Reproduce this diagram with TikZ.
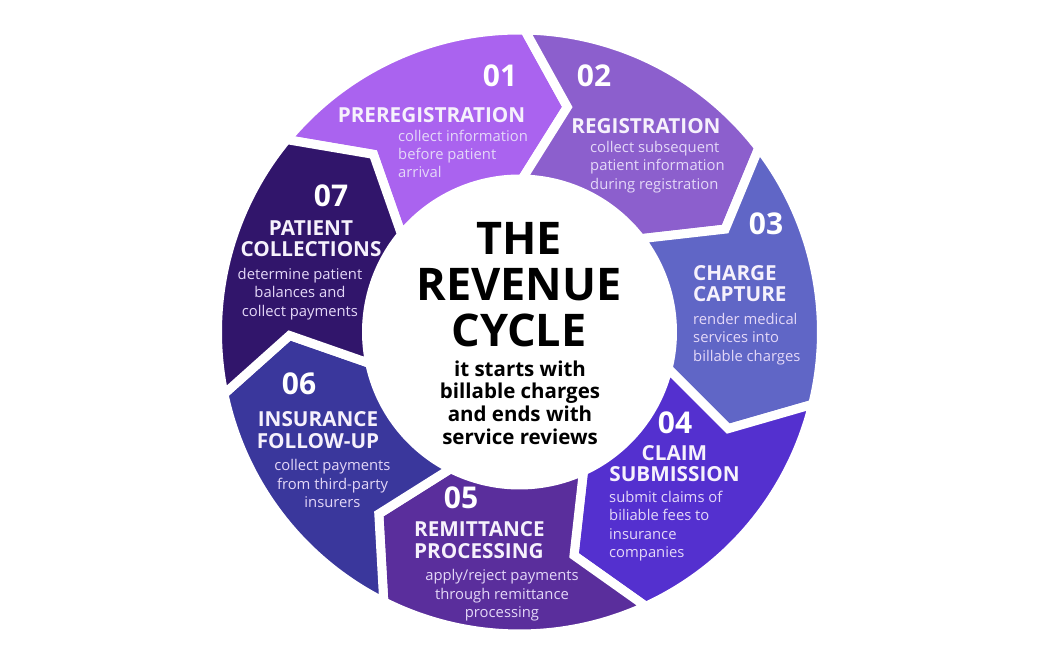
\documentclass[tikz,border=0pt]{standalone}
\usepackage{fontspec}
\setmainfont{Open Sans}
\usepackage{xcolor}
\usepackage{tikz}
\usetikzlibrary{calc, positioning}

\definecolor{segA}{HTML}{AA63EF}
\definecolor{segB}{HTML}{8C5FCD}
\definecolor{segC}{HTML}{6066C6}
\definecolor{segD}{HTML}{5430CF}
\definecolor{segE}{HTML}{5A2E9C}
\definecolor{segF}{HTML}{3A379C}
\definecolor{segG}{HTML}{31156B}
\definecolor{desctext}{HTML}{E4D8F8}
\definecolor{headtext}{HTML}{F6F1FC}

\tikzset{
  segment/.style={fill=#1, draw=white, line width=9pt, line join=miter},
  numlabel/.style={text=white, inner sep=0pt, anchor=north,
    font=\fontsize{30}{30}\selectfont\bfseries},
  headlabel/.style={text=headtext, inner sep=0pt, align=#1,
    font=\fontsize{20.7}{21.7}\selectfont\bfseries},
  desclabel/.style={text=desctext, inner sep=0pt, align=#1,
    font=\fontsize{14.8}{18.3}\selectfont},
}

\begin{document}
\begin{tikzpicture}[x=1pt, y=1pt]
    % =================================================================
    % 1. NỀN VÀ KHUNG
    % =================================================================
    \useasboundingbox (-519.5,-335) rectangle (524.5,332);
    \fill[white] (-519.5,-335) rectangle (524.5,332);

    % =================================================================
    % 2. BẢY MŨI TÊN VÒNG TRÒN (chiều kim đồng hồ)
    % =================================================================
    \foreach \k/\col in {1/segA, 2/segB, 3/segC, 4/segD, 5/segE, 6/segF, 7/segG} {
        \pgfmathsetmacro\a{89-(\k-2)*360/7}
        \pgfmathsetmacro\b{89-(\k-1)*360/7}
        \draw[segment=\col] (\a:302pt) arc[start angle=\a, end angle=\b, radius=302pt]
            -- ({\b-11}:230pt) -- (\b:153pt)
            arc[start angle=\b, end angle=\a, radius=153pt]
            -- ({\a-11}:230pt) -- cycle;
    }

    % =================================================================
    % 3. CHỮ Ở GIỮA
    % =================================================================
    \node[inner sep=0pt, anchor=north, align=center,
          font=\fontsize{45}{46}\selectfont\bfseries] (title) at (-0.5,110.3)
          {THE\\REVENUE\\CYCLE};
    \node[inner sep=0pt, anchor=north, align=center,
          font=\fontsize{20.5}{22.6}\selectfont\bfseries] (subtitle) at (0.5,-28.5)
          {it starts with\\billable charges\\and ends with\\service reviews};

    % =================================================================
    % 4. NHÃN CÁC BƯỚC
    % =================================================================
    % Bước 01
    \node[numlabel] (num1) at (-19.5,267) {01};
    \node[headlabel=center, anchor=north] (head1) at (-88,225) {PREREGISTRATION};
    \node[desclabel=left, anchor=north west] (desc1) at (-121.5,202.5)
          {collect information\\before patient\\arrival};
    % Bước 02
    \node[numlabel] (num2) at (74.5,267) {02};
    \node[headlabel=center, anchor=north] (head2) at (126.5,214) {REGISTRATION};
    \node[desclabel=left, anchor=north west] (desc2) at (70.5,191)
          {collect subsequent\\patient information\\during registration};
    % Bước 03
    \node[numlabel] (num3) at (246.5,119) {03};
    \node[headlabel=left, anchor=north west] (head3) at (173.5,67) {CHARGE\\CAPTURE};
    \node[desclabel=left, anchor=north west] (desc3) at (173.5,19)
          {render medical\\services into\\billable charges};
    % Bước 04
    \node[numlabel] (num4) at (155.5,-79.7) {04};
    \node[headlabel=center, anchor=north] (head4) at (155,-113) {CLAIM\\SUBMISSION};
    \node[desclabel=left, anchor=north west] (desc4) at (89.5,-159)
          {submit claims of\\biliable fees to\\insurance\\companies};
    % Bước 05
    \node[numlabel] (num5) at (-58.5,-154.7) {05};
    \node[headlabel=left, anchor=north west] (head5) at (-105.5,-189.7) {REMITTANCE\\PROCESSING};
    \node[desclabel=center, anchor=north] (desc5) at (-17.5,-237.5)
          {apply/reject payments\\through remittance\\processing};
    % Bước 06
    \node[numlabel] (num6) at (-220.5,-41) {06};
    \node[headlabel=center, anchor=north] (head6) at (-201.5,-79.7) {INSURANCE\\FOLLOW-UP};
    \node[desclabel=center, anchor=north] (desc6) at (-187,-127.5)
          {collect payments\\from third-party\\insurers};
    % Bước 07
    \node[numlabel] (num7) at (-188.5,147) {07};
    \node[headlabel=center, anchor=north] (head7) at (-208.5,112) {PATIENT\\COLLECTIONS};
    \node[desclabel=center, anchor=north] (desc7) at (-219.5,64)
          {determine patient\\balances and\\collect payments};
\end{tikzpicture}
\end{document}
